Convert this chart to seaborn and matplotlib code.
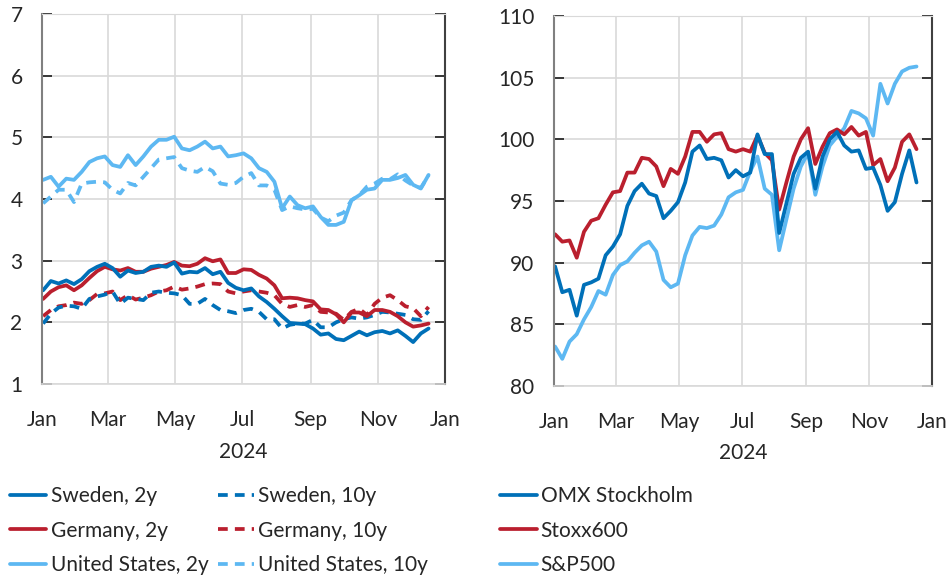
import pandas as pd
import numpy as np
import matplotlib
matplotlib.use("Agg")
import matplotlib.pyplot as plt
import matplotlib.dates as mdates
import seaborn as sns

# weekly readings, Jan 2 - Dec 17 2024
dates = pd.date_range("2024-01-02", periods=51, freq="7D")

# government bond yields, per cent
se_2y = [2.52, 2.67, 2.63, 2.68, 2.62, 2.70, 2.83, 2.90, 2.95, 2.88, 2.74, 2.84, 2.80,
         2.82, 2.90, 2.92, 2.90, 2.97, 2.79, 2.82, 2.81, 2.88, 2.78, 2.82, 2.64, 2.56,
         2.52, 2.55, 2.42, 2.33, 2.22, 2.10, 1.99, 1.98, 1.97, 1.90, 1.80, 1.82, 1.73,
         1.71, 1.78, 1.85, 1.79, 1.84, 1.86, 1.82, 1.87, 1.78, 1.68, 1.82, 1.90]
de_2y = [2.38, 2.50, 2.57, 2.60, 2.52, 2.60, 2.72, 2.83, 2.90, 2.86, 2.84, 2.88, 2.82,
         2.82, 2.87, 2.90, 2.93, 2.98, 2.92, 2.91, 2.95, 3.04, 2.99, 3.02, 2.80, 2.80,
         2.86, 2.85, 2.77, 2.71, 2.60, 2.39, 2.40, 2.39, 2.36, 2.34, 2.21, 2.20, 2.13,
         2.00, 2.16, 2.16, 2.10, 2.20, 2.20, 2.17, 2.10, 2.00, 1.93, 1.95, 1.98]
us_2y = [4.31, 4.36, 4.20, 4.33, 4.31, 4.44, 4.60, 4.66, 4.69, 4.55, 4.52, 4.71, 4.55,
         4.69, 4.85, 4.96, 4.96, 5.01, 4.82, 4.79, 4.85, 4.93, 4.82, 4.85, 4.69, 4.71,
         4.74, 4.66, 4.50, 4.44, 4.28, 3.85, 4.04, 3.90, 3.85, 3.88, 3.71, 3.58, 3.58,
         3.63, 3.98, 4.06, 4.15, 4.17, 4.31, 4.31, 4.34, 4.39, 4.23, 4.17, 4.39]
se_10y = [1.98, 2.14, 2.24, 2.27, 2.26, 2.22, 2.38, 2.42, 2.45, 2.50, 2.30, 2.40, 2.38,
          2.36, 2.48, 2.50, 2.48, 2.47, 2.44, 2.30, 2.30, 2.38, 2.28, 2.20, 2.18, 2.15,
          2.20, 2.22, 2.17, 2.05, 2.05, 1.90, 1.96, 1.98, 1.98, 2.04, 1.92, 1.92, 2.00,
          2.05, 2.08, 2.06, 2.08, 2.12, 2.17, 2.16, 2.14, 2.12, 2.05, 2.04, 2.18]
de_10y = [2.10, 2.20, 2.26, 2.28, 2.32, 2.30, 2.36, 2.46, 2.47, 2.50, 2.36, 2.44, 2.37,
          2.40, 2.44, 2.50, 2.52, 2.58, 2.53, 2.55, 2.58, 2.62, 2.63, 2.62, 2.50, 2.47,
          2.50, 2.52, 2.50, 2.48, 2.44, 2.30, 2.25, 2.28, 2.25, 2.28, 2.17, 2.16, 2.14,
          2.04, 2.17, 2.22, 2.12, 2.30, 2.40, 2.44, 2.36, 2.26, 2.23, 2.10, 2.25]
us_10y = [3.93, 4.04, 4.15, 4.15, 3.95, 4.25, 4.27, 4.28, 4.27, 4.15, 4.09, 4.26, 4.22,
          4.36, 4.50, 4.64, 4.66, 4.68, 4.50, 4.46, 4.44, 4.52, 4.45, 4.25, 4.23, 4.26,
          4.36, 4.42, 4.22, 4.22, 4.15, 3.82, 3.88, 3.85, 3.83, 3.84, 3.70, 3.64, 3.73,
          3.78, 3.98, 4.06, 4.20, 4.25, 4.33, 4.32, 4.40, 4.30, 4.22, 4.18, 4.38]

# stock indices
omx = [89.7, 87.6, 87.8, 85.7, 88.2, 88.4, 88.7, 90.6, 91.3, 92.3, 94.6, 95.8, 96.4,
       95.6, 95.4, 93.6, 94.2, 94.9, 96.5, 99.0, 99.5, 98.4, 98.5, 98.3, 96.9, 97.5,
       97.0, 97.3, 100.4, 98.8, 98.8, 92.4, 94.8, 97.2, 98.5, 99.0, 96.0, 98.6, 100.0,
       100.6, 99.5, 99.0, 99.1, 97.6, 97.7, 96.3, 94.2, 94.9, 97.2, 99.1, 96.5]
stoxx = [92.3, 91.7, 91.8, 90.4, 92.5, 93.4, 93.6, 94.7, 95.7, 95.8, 97.3, 97.3, 98.5,
         98.4, 97.8, 96.2, 97.6, 97.2, 98.6, 100.6, 100.6, 99.8, 100.4, 100.5, 99.2, 99.0,
         99.2, 99.0, 100.3, 98.9, 98.3, 94.3, 96.5, 98.6, 100.0, 100.9, 98.0, 99.4, 100.5,
         100.8, 100.4, 101.0, 100.3, 100.6, 97.9, 98.4, 96.6, 97.7, 99.8, 100.4, 99.2]
spx = [83.2, 82.2, 83.6, 84.2, 85.4, 86.4, 87.7, 87.4, 89.0, 89.8, 90.1, 90.8, 91.4,
       91.7, 90.9, 88.6, 88.0, 88.3, 90.6, 92.2, 92.9, 92.8, 93.0, 93.9, 95.3, 95.7,
       95.9, 97.4, 98.6, 96.0, 95.5, 91.0, 93.5, 96.0, 97.8, 98.9, 95.5, 97.8, 99.5,
       100.2, 100.9, 102.3, 102.1, 101.7, 100.3, 104.5, 102.9, 104.5, 105.5, 105.8, 105.9]

dark_blue = "#0070B8"
red = "#BA1F2E"
light_blue = "#5DB8F2"
dash = (0, (2.6, 1.9))
fs = 15

sns.set_style("white")
plt.rcParams["font.family"] = ["Lato", "DejaVu Sans"]
plt.rcParams["font.size"] = fs

fig = plt.figure(figsize=(9.49, 5.8), dpi=100)
ax1 = fig.add_axes([0.0443, 0.3379, 0.4247, 0.638])
ax2 = fig.add_axes([0.5838, 0.3345, 0.3983, 0.638])

lw = 2.7
# left: yields
for vals, col, lab in [(us_10y, light_blue, "United States, 10y"),
                       (de_10y, red, "Germany, 10y"),
                       (se_10y, dark_blue, "Sweden, 10y")]:
    sns.lineplot(x=dates, y=vals, ax=ax1, color=col, linewidth=lw, linestyle=dash, label=lab)
for vals, col, lab in [(us_2y, light_blue, "United States, 2y"),
                       (de_2y, red, "Germany, 2y"),
                       (se_2y, dark_blue, "Sweden, 2y")]:
    sns.lineplot(x=dates, y=vals, ax=ax1, color=col, linewidth=lw, label=lab)

# right: stocks
for vals, col, lab in [(spx, light_blue, "S&P500"),
                       (stoxx, red, "Stoxx600"),
                       (omx, dark_blue, "OMX Stockholm")]:
    sns.lineplot(x=dates, y=vals, ax=ax2, color=col, linewidth=lw, label=lab)

for ax, ylim, step in [(ax1, (1, 7), 1), (ax2, (80, 110), 5)]:
    ax.set_ylim(*ylim)
    ax.set_yticks(np.arange(ylim[0], ylim[1] + 0.1, step))
    ax.set_xlim(pd.Timestamp("2024-01-01"), pd.Timestamp("2025-01-01"))
    ax.xaxis.set_major_locator(mdates.MonthLocator(bymonth=[1, 3, 5, 7, 9, 11]))
    ax.xaxis.set_major_formatter(mdates.DateFormatter("%b"))
    ax.grid(True, color="#D9D9D9", linewidth=1.2)
    ax.set_axisbelow(True)
    ax.tick_params(axis="x", length=0, pad=19, labelsize=fs)
    ax.tick_params(axis="y", direction="in", length=7, width=1.2, color="#1a1a1a",
                   left=True, right=True, labelright=False, pad=14, labelsize=fs)
    ax.spines["left"].set_color("#808080")
    ax.spines["left"].set_linewidth(1.5)
    ax.spines["right"].set_color("#404040")
    ax.spines["right"].set_linewidth(1.5)
    ax.spines["top"].set_color("#D9D9D9")
    ax.spines["bottom"].set_color("#D9D9D9")
    ax.spines["bottom"].set_linewidth(1.2)
    ax.set_xlabel("2024", fontsize=fs, labelpad=8)
    ax.set_ylabel("")
    if ax.get_legend() is not None:
        ax.get_legend().remove()

h1, l1 = ax1.get_legend_handles_labels()
order = ["Sweden, 2y", "Germany, 2y", "United States, 2y",
         "Sweden, 10y", "Germany, 10y", "United States, 10y"]
hmap = dict(zip(l1, h1))
fig.legend([hmap[k] for k in order], order, loc="upper left", ncol=2,
           bbox_to_anchor=(0.0105, 0.162), frameon=False, borderpad=0,
           borderaxespad=0, handlelength=1.75, handletextpad=0.2,
           labelspacing=0.7, columnspacing=0.45, fontsize=fs)

h2, l2 = ax2.get_legend_handles_labels()
order2 = ["OMX Stockholm", "Stoxx600", "S&P500"]
hmap2 = dict(zip(l2, h2))
fig.legend([hmap2[k] for k in order2], order2, loc="upper left", ncol=1,
           bbox_to_anchor=(0.527, 0.162), frameon=False, borderpad=0,
           borderaxespad=0, handlelength=1.75, handletextpad=0.2,
           labelspacing=0.7, fontsize=fs)

fig.savefig("out.png", dpi=100)
